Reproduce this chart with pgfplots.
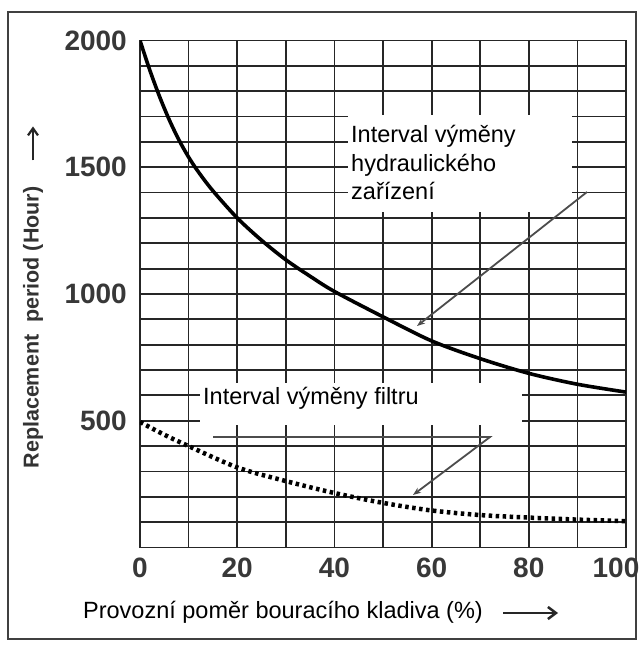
\documentclass[border=0pt]{standalone}
\usepackage{pgfplots}
\pgfplotsset{compat=1.18}
\usepackage{fontspec}
\setmainfont{Liberation Sans}
\usetikzlibrary{arrows.meta}
\begin{document}
\begin{tikzpicture}
\useasboundingbox (-140bp,-102.5bp) rectangle (499bp,547.5bp);
\fill[white] (-140bp,-102.5bp) rectangle (499bp,547.5bp);
\draw[black!75, line width=1.6bp] (-132bp,-91.5bp) rectangle (496bp,535.5bp);
\begin{axis}[at={(0,0)}, anchor=south west, scale only axis,
  width=486bp, height=507bp,
  xmin=0, xmax=100, ymin=0, ymax=2000,
  xtick={0,10,...,100}, xticklabels={0,,20,,40,,60,,80,,\hspace*{-20bp}100},
  ytick={0,100,...,2000},
  yticklabels={,,,,,500,,,,,1000,,,,,1500,,,,,2000},
  major tick length=0pt,
  grid=major, major grid style={black!85, line width=1.8bp},
  axis line style={black!85, line width=1.8bp},
  /pgf/number format/assume math mode=true,
  tick label style={font=\fontsize{28bp}{28bp}\selectfont\bfseries, text=black!78, inner sep=0pt},
  xticklabel style={anchor=north, yshift=-10bp},
  yticklabel style={anchor=east, xshift=-13bp},
]
\addplot[black, line width=3.6bp, smooth] coordinates {
(0,2000) (2,1884) (4,1780) (6,1688) (8,1608) (10,1540) (12,1482) (15,1407)
(20,1300) (25,1212) (30,1135) (35,1070) (40,1010) (50,910) (60,815)
(70,745) (80,687) (90,644) (100,613)};
\addplot[black, line width=4.5bp, dash pattern=on 3.5bp off 3.5bp, smooth] coordinates {
(0,495) (5,445) (10,400) (20,316) (30,262) (40,215) (50,176) (60,146)
(70,128) (80,118) (90,110) (100,104)};
\end{axis}
% hydraulic label box
\fill[white] (208bp,335.5bp) rectangle (432bp,432.5bp);
\begin{scope}[every node/.style={font=\fontsize{23.5bp}{28.5bp}\selectfont, inner sep=0pt, anchor=base west}]
\node at (211bp,404.5bp) {Interval výměny};
\node at (211bp,375.5bp) {hydraulického};
\node at (211bp,347.5bp) {zařízení};
\end{scope}
\draw[black!70, line width=1.8bp, -{Stealth[length=8bp,width=6bp]}] (447bp,355.5bp) -- (277bp,221.5bp);
% filter label box
\fill[white] (60bp,122.5bp) rectangle (382bp,164.5bp);
\node[font=\fontsize{23.5bp}{28.5bp}\selectfont, inner sep=0pt, anchor=base west] at (63bp,142.5bp) {Interval výměny filtru};
\draw[black!70, line width=1.8bp, -{Stealth[length=8bp,width=6bp]}] (73bp,110.5bp) -- (350bp,110.5bp) -- (273bp,52.5bp);
% y label
\node[rotate=90, font=\fontsize{21.5bp}{21.5bp}\selectfont\bfseries, text=black!80, inner sep=0pt] at (-107bp,220bp) {Replacement\ \ period (Hour)};
\draw[black!85, line width=2.2bp, -{Straight Barb[length=7bp,width=10bp]}] (-107bp,387bp) -- (-107bp,421bp);
% x label
\node[font=\fontsize{23.5bp}{28.5bp}\selectfont, inner sep=0pt, anchor=base] at (143bp,-70.5bp) {Provozní poměr bouracího kladiva (\%)};
\draw[black!85, line width=2.5bp, -{Straight Barb[length=8bp,width=12bp]}] (363bp,-65.5bp) -- (418bp,-65.5bp);
\end{tikzpicture}
\end{document}
